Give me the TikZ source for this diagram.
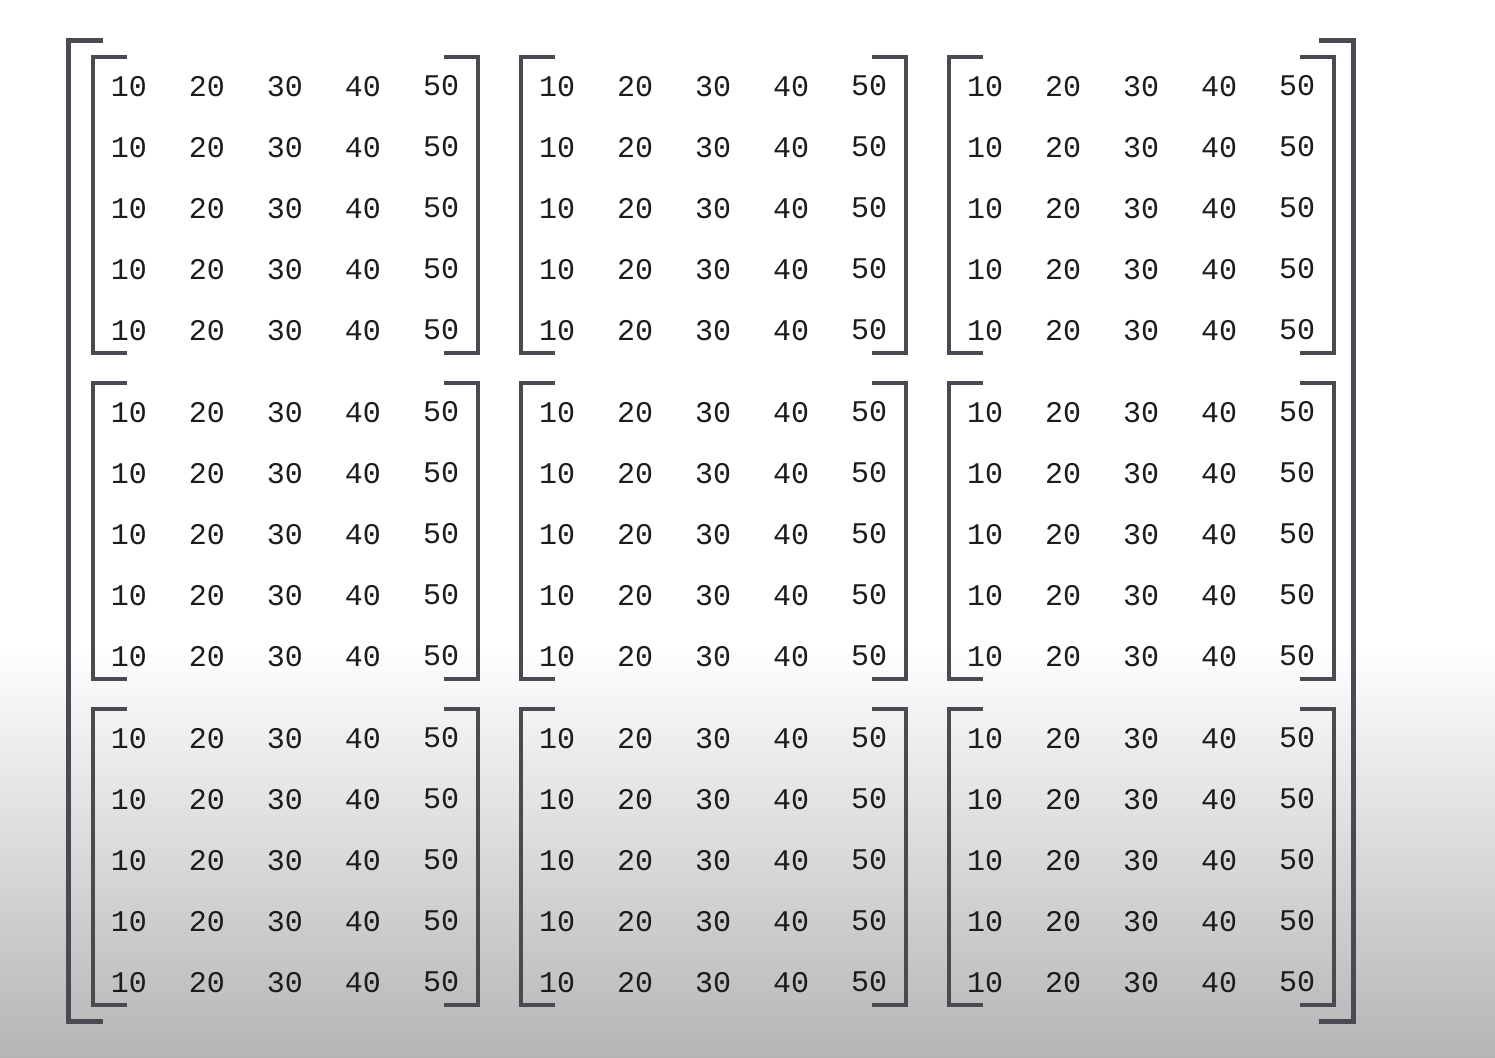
\documentclass[tikz,border=0pt]{standalone}
\usepackage{fontspec}
\setmonofont{Liberation Mono}
\definecolor{bracketGray}{RGB}{74,75,82}
\definecolor{digitBlack}{RGB}{28,28,28}

\begin{document}
\begin{tikzpicture}
[x=0.5pt,y=-0.5pt,%
  bracketLine/.style={draw=bracketGray,line width=2pt},%
  outerLine/.style={draw=bracketGray,line width=2.2pt},%
  blockBox/.style={shape=rectangle,inner sep=0pt,minimum width=192.5pt,minimum height=148pt},%
  outerBox/.style={shape=rectangle,inner sep=0pt,minimum width=642pt,minimum height=490pt},%
  entryText/.style={inner sep=0pt,text=digitBlack,font=\ttfamily\fontsize{15}{15}\selectfont}]
\useasboundingbox (0,0) rectangle (1495,1057);
%% background
\fill[white] (0,0) rectangle (1495,645);
\shade[top color=white,bottom color=gray!58] (0,645) rectangle (1495,1057);
%% outer bracket
\node (outer) at (711,531) [outerBox] {};
\draw[outerLine] ([xshift=17pt]outer.north west) -- (outer.north west)
  -- (outer.south west) -- ([xshift=17pt]outer.south west);
\draw[outerLine] ([xshift=-17pt]outer.north east) -- (outer.north east)
  -- (outer.south east) -- ([xshift=-17pt]outer.south east);
%% blocks
\foreach \r in {1,2,3}
{
  \foreach \c in {1,2,3}
  {
    \node (b\r\c) at ({285.5+428*(\c-1)},{205+326*(\r-1)}) [blockBox] {};
    \draw[bracketLine] ([xshift=17pt]b\r\c.north west) -- (b\r\c.north west)
      -- (b\r\c.south west) -- ([xshift=17pt]b\r\c.south west);
    \draw[bracketLine] ([xshift=-17pt]b\r\c.north east) -- (b\r\c.north east)
      -- (b\r\c.south east) -- ([xshift=-17pt]b\r\c.south east);
  }
}
%% entries
\foreach \r in {1,2,3}
{
  \foreach \c in {1,2,3}
  {
    \foreach \i in {1,...,5}
    {
      \foreach \j/\lift in {1/0, 2/0, 3/0, 4/0, 5/0.75}
      {
        \node (e\r\c-\i\j) at ({129+428*(\c-1)+78*(\j-1)},{87+326*(\r-1)+61*(\i-1)})
          [entryText,yshift=\lift pt] {\j0};
      }
    }
  }
}
\end{tikzpicture}
\end{document}
